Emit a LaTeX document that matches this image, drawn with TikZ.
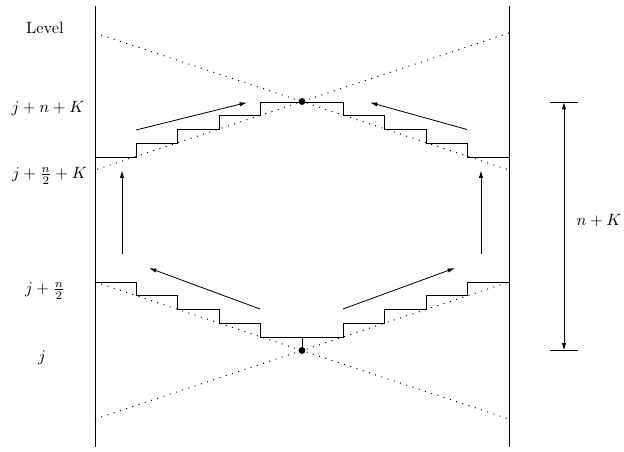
\documentclass[tikz,border=0pt]{standalone}
\usetikzlibrary{arrows.meta}
\begin{document}
\begin{tikzpicture}[x=0.61pt,y=-0.61pt,
  boundary/.style={line width=0.5pt},
  dotline/.style={line width=0.6pt,dash pattern=on 0.6pt off 3.4pt},
  stair/.style={line width=0.5pt},
  arr/.style={line width=0.5pt,-{Latex[length=4.5pt,width=2.6pt]}},
  dimarr/.style={line width=0.5pt,{Latex[length=4.5pt,width=2.6pt]}-{Latex[length=4.5pt,width=2.6pt]}},
  dotnode/.style={circle,fill=black,inner sep=0pt,minimum size=4.2pt},
  lbl/.style={anchor=base,inner sep=0pt}]
\useasboundingbox (0,0) rectangle (624,452);
% boundaries
\coordinate (LT) at (95,6); \coordinate (LB) at (95,447);
\coordinate (RT) at (509,6); \coordinate (RB) at (509,447);
\draw[boundary] (LT) -- (LB);
\draw[boundary] (RT) -- (RB);
% dotted lines
\coordinate (d1) at (95,33);  \coordinate (d2) at (509,170);
\coordinate (d3) at (509,33); \coordinate (d4) at (95,170);
\coordinate (d5) at (95,282); \coordinate (d6) at (509,419);
\coordinate (d7) at (95,419); \coordinate (d8) at (509,282);
\draw[dotline] (d1) -- (d2);
\draw[dotline] (d3) -- (d4);
\draw[dotline] (d5) -- (d6);
\draw[dotline] (d7) -- (d8);
% dots
\node[dotnode] (top) at (302,101.5) {};
\node[dotnode] (bot) at (302,350.5) {};
% upper staircase
\coordinate (us) at (95,157);
\draw[stair] (us) -- ++(41.4,0) -- ++(0,-13.75) -- ++(41.4,0) -- ++(0,-13.75)
  -- ++(41.4,0) -- ++(0,-13.75) -- ++(41.4,0) -- ++(0,-13.75)
  -- ++(82.8,0) -- ++(0,13.75) -- ++(41.4,0) -- ++(0,13.75)
  -- ++(41.4,0) -- ++(0,13.75) -- ++(41.4,0) -- ++(0,13.75) -- ++(41.4,0);
% lower staircase
\coordinate (ls) at (95,282);
\draw[stair] (ls) -- ++(41.4,0) -- ++(0,13.75) -- ++(41.4,0) -- ++(0,13.75)
  -- ++(41.4,0) -- ++(0,13.75) -- ++(41.4,0) -- ++(0,13.75)
  -- ++(82.8,0) -- ++(0,-13.75) -- ++(41.4,0) -- ++(0,-13.75)
  -- ++(41.4,0) -- ++(0,-13.75) -- ++(41.4,0) -- ++(0,-13.75) -- ++(41.4,0);
\coordinate (stem) at (302,337);
\draw[stair] (stem) -- (bot.center);
% arrows
\coordinate (a1s) at (136,130);   \coordinate (a1e) at (247,102.5);
\coordinate (a2s) at (467,129.5); \coordinate (a2e) at (370,102.5);
\coordinate (a3s) at (122,254);   \coordinate (a3e) at (122,170.5);
\coordinate (a4s) at (481,254);   \coordinate (a4e) at (481,170.5);
\coordinate (a5s) at (260,309);   \coordinate (a5e) at (149,268);
\coordinate (a6s) at (343,309);   \coordinate (a6e) at (455,268);
\draw[arr] (a1s) -- (a1e);
\draw[arr] (a2s) -- (a2e);
\draw[arr] (a3s) -- (a3e);
\draw[arr] (a4s) -- (a4e);
\draw[arr] (a5s) -- (a5e);
\draw[arr] (a6s) -- (a6e);
% dimension
\coordinate (b1l) at (550,102);   \coordinate (b1r) at (578,102);
\coordinate (b2l) at (550,350.5); \coordinate (b2r) at (578,350.5);
\coordinate (m1) at (564,102);    \coordinate (m2) at (564,350.5);
\draw[boundary] (b1l) -- (b1r);
\draw[boundary] (b2l) -- (b2r);
\draw[dimarr] (m1) -- (m2);
% labels
\node[lbl] (lev) at (45,33) {Level};
\node[lbl] (l1) at (48,112) {$j+n+K$};
\node[lbl] (l2) at (49.5,178.5) {$j+\frac{n}{2}+K$};
\node[lbl] (l3) at (45,293.5) {$j+\frac{n}{2}$};
\node[lbl] (l4) at (42,361) {$j$};
\node[lbl] (nk) at (599,225.5) {$n+K$};
\end{tikzpicture}
\end{document}
